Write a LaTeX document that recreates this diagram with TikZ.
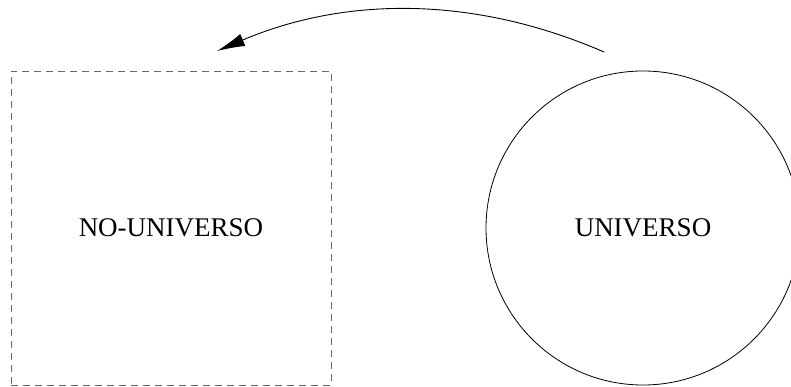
\documentclass[tikz,border=0pt]{standalone}
\usepackage{fontspec}
\setmainfont{Liberation Serif}
\usetikzlibrary{arrows.meta}
\begin{document}
\begin{tikzpicture}[x=1pt,y=1pt,
  nobox/.style={draw=black!60, dash pattern=on 7pt off 5pt, line width=0.9pt, minimum width=320pt, minimum height=314pt, inner sep=0pt, font=\fontsize{27}{31}\selectfont},
  unicircle/.style={draw=black, circle, line width=0.8pt, minimum size=314pt, inner sep=0pt, font=\fontsize{27}{31}\selectfont},
  link/.style={line width=0.9pt, -{Latex[length=28pt,width=13pt]}}]
\useasboundingbox (0,0) rectangle (791,387);
\node[nobox] (no) at (171,159) {NO-UNIVERSO};
\node[unicircle] (uni) at (643,159) {UNIVERSO};
\coordinate (s) at (604,335);
\coordinate (t) at (217,336);
\draw[link] (s) .. controls (475,391) and (346,391) .. (t);
\end{tikzpicture}
\end{document}
